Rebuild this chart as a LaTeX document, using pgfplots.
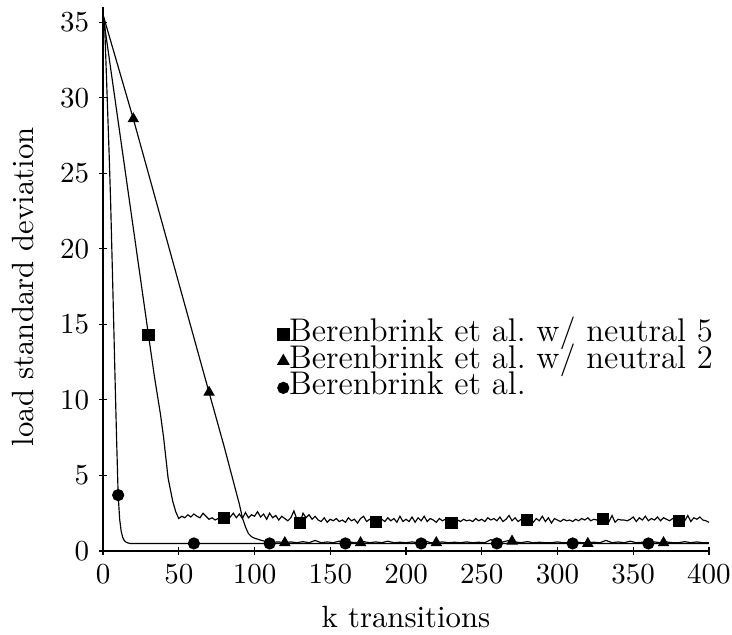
\documentclass[border=0pt]{standalone}
\usepackage{pgfplots}
\pgfplotsset{compat=1.18}

\begin{document}
\begin{tikzpicture}
\begin{axis}[scale only axis, width=209pt, height=187.6pt,
  xmin=0, xmax=400, ymin=0, ymax=36,
  axis lines=left, axis line style={-, black, line width=0.4pt},
  xtick={0,50,...,400}, ytick={0,5,...,35},
  tick align=center, major tick length=2.5pt, tick style={black, line width=0.4pt},
  tick label style={font=\fontsize{10}{12}\selectfont},
  xticklabel style={inner xsep=0pt},
  xlabel={k transitions}, ylabel={load standard deviation},
  label style={font=\fontsize{10.6}{13}\selectfont},
  xlabel style={at={(axis description cs:0.5,-0.140)}, anchor=base, inner sep=0pt},
  ylabel style={at={(axis description cs:-0.132,0.486)}, anchor=center, inner sep=0pt},
  clip=false,
  legend cell align=left,
  legend image code/.code={\draw[mark repeat=2,mark phase=2,#1] plot coordinates {(0pt,0pt)(3pt,0pt)(6pt,0pt)};},
  legend style={at={(axis description cs:0.288,0.4225)}, anchor=north west, draw=none, fill=none,
    inner sep=0pt, outer sep=0pt, row sep=0pt, font=\fontsize{11.3}{13}\selectfont,
    nodes={inner sep=0pt, text height=7pt, text depth=2.2pt}},
]
% invisible frame to set the page size
\path (axis description cs:-0.170,-0.154) rectangle (axis description cs:1.038,1.013);

% Berenbrink et al.
\addplot[black, line width=0.4pt, forget plot] coordinates {
(0,35.5)(1,35)(2,32.2)(3,29.3)(4,26.4)(5,23.2)(6,19.3)(7,15.3)(8,11.2)(9,7.3)(10,3.7)
(11,2.1)(12,1.3)(13,0.9)(14,0.7)(15,0.6)(16,0.55)(17,0.52)(18,0.5)(50,0.5)(100,0.5)
(150,0.5)(200,0.5)(250,0.5)(300,0.5)(350,0.5)(400,0.5)};

% Berenbrink et al. w/ neutral 2
\addplot[black, line width=0.4pt, forget plot] coordinates {
(0,35.5)(20,28.6)(70,10.5)(80,6.9)(85,5.0)(90,3.1)(92,2.2)(94,1.6)(96,1.15)(98,0.95)
(100,0.85)(104,0.72)(108,0.62)(112,0.58)(116,0.6)(120,0.55)(124,0.6)(128,0.55)(132,0.62)
(136,0.55)(140,0.7)(144,0.55)(148,0.6)(152,0.55)(156,0.65)(160,0.55)(164,0.58)(168,0.55)
(172,0.62)(176,0.55)(180,0.6)(184,0.55)(188,0.65)(192,0.55)(196,0.58)(200,0.55)(204,0.6)
(208,0.55)(212,0.7)(216,0.55)(220,0.55)(224,0.6)(228,0.55)(232,0.58)(236,0.55)(240,0.6)
(244,0.55)(248,0.58)(252,0.55)(256,0.75)(260,0.55)(264,0.6)(268,0.7)(272,0.6)(276,0.55)
(280,0.62)(284,0.55)(288,0.58)(292,0.55)(296,0.55)(300,0.6)(304,0.55)(308,0.55)(312,0.6)
(316,0.55)(320,0.55)(324,0.58)(328,0.55)(332,0.7)(336,0.55)(340,0.6)(344,0.55)(348,0.65)
(352,0.55)(356,0.58)(360,0.55)(364,0.6)(368,0.55)(372,0.6)(376,0.55)(380,0.55)(384,0.62)
(388,0.55)(392,0.6)(396,0.55)(400,0.55)};

% Berenbrink et al. w/ neutral 5
\addplot[black, line width=0.4pt, forget plot] coordinates {
(0,35.5)(30,14.3)(34,11.5)(38,9)(40,7.5)(43,4.8)(46,3.3)(48,2.6)(50,2.15)
(52,2.3)(54,2.2)(56,2.4)(58,2.25)(60,2.45)(62,2.3)(64,2.2)(66,2.5)(68,2.3)(70,2.1)
(72,2.2)(74,2.05)(76,2.15)(78,2.3)(80,2.2)(82,2.4)(84,2.25)(86,2.5)(88,2.2)(90,2.45)
(92,2.15)(94,2.55)(96,2.2)(98,2.4)(100,2.3)(102,2.6)(104,2.25)(106,2.45)(108,2.1)(110,2.5)
(112,2.2)(114,2.35)(116,2.05)(118,2.3)(120,2.15)(122,2.0)(124,2.2)(126,2.65)(128,2.1)(130,1.85)
(132,2.5)(134,2.2)(136,2.4)(138,2.1)(140,2.3)(142,2.05)(144,1.95)(146,2.2)(148,1.9)(150,2.1)
(152,2.0)(154,2.15)(156,1.95)(158,2.05)(160,1.9)(162,2.2)(164,2.0)(166,2.1)(168,1.85)(170,2.15)
(172,2.3)(174,1.95)(176,2.1)(178,2.05)(180,1.9)(182,2.0)(184,2.1)(186,1.95)(188,2.2)(190,2.0)
(192,2.15)(194,1.9)(196,2.3)(198,1.95)(200,2.1)(202,1.95)(204,2.25)(206,1.9)(208,2.2)(210,2.0)
(212,2.3)(214,1.95)(216,2.15)(218,2.05)(220,1.9)(222,2.15)(224,2.0)(226,2.1)(228,2.0)(230,1.9)
(232,2.0)(234,2.05)(236,1.95)(238,2.1)(240,2.0)(242,2.05)(244,1.95)(246,2.15)(248,2.0)(250,2.1)
(252,1.95)(254,2.2)(256,2.05)(258,2.15)(260,2.0)(262,2.25)(264,1.95)(266,2.1)(268,2.35)(270,2.0)
(272,2.2)(274,1.95)(276,2.1)(278,2.15)(280,2.05)(282,2.2)(284,1.9)(286,2.15)(288,2.0)(290,2.3)
(292,1.95)(294,2.2)(296,1.85)(298,2.15)(300,2.05)(302,1.95)(304,2.1)(306,2.0)(308,2.05)(310,1.95)
(312,2.1)(314,2.0)(316,2.15)(318,2.05)(320,2.2)(322,2.0)(324,2.1)(326,2.05)(328,2.25)(330,2.1)
(332,2.3)(334,1.95)(336,2.35)(338,1.9)(340,2.1)(342,2.05)(344,2.05)(346,2.0)(348,2.1)(350,2.25)
(352,1.95)(354,2.2)(356,2.05)(358,2.3)(360,2.0)(362,2.15)(364,2.05)(366,2.25)(368,2.0)(370,2.2)
(372,2.1)(374,2.0)(376,2.15)(378,2.05)(380,2.0)(382,2.3)(384,2.0)(386,2.35)(388,1.95)(390,2.2)
(392,2.1)(394,2.25)(396,2.05)(398,2.0)(400,1.9)};

% markers
\addplot[only marks, mark=*, mark size=1.9pt, black, forget plot] coordinates {
(10,3.7)(60,0.5)(110,0.5)(160,0.5)(210,0.5)(260,0.5)(310,0.5)(360,0.5)};
\addplot[only marks, mark=triangle*, mark size=1.9pt, black, forget plot] coordinates {
(20,28.6)(70,10.5)(120,0.55)(170,0.55)(220,0.55)(270,0.65)(320,0.5)(370,0.55)};
\addplot[only marks, mark=square*, mark size=1.9pt, black, forget plot] coordinates {
(30,14.3)(80,2.2)(130,1.85)(180,1.9)(230,1.85)(280,2.05)(330,2.1)(380,2.0)};

\addlegendimage{only marks, mark=square*, mark size=2.0pt, black}
\addlegendentry{Berenbrink et al.\ w/ neutral 5}
\addlegendimage{only marks, mark=triangle*, mark size=2.2pt, black}
\addlegendentry{Berenbrink et al.\ w/ neutral 2}
\addlegendimage{only marks, mark=*, mark size=1.9pt, black}
\addlegendentry{Berenbrink et al.}
\end{axis}
\end{tikzpicture}
\end{document}
